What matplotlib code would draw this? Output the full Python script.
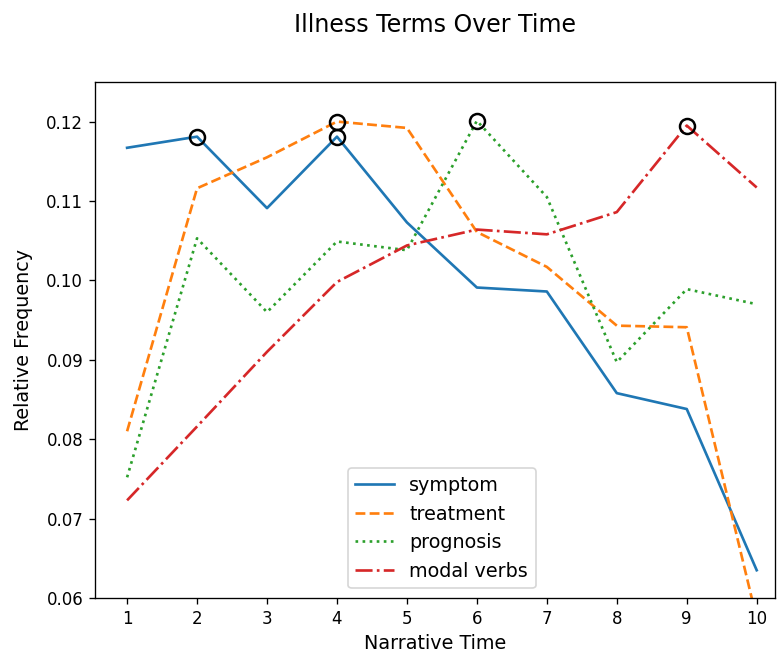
import matplotlib
matplotlib.use("Agg")
import matplotlib.pyplot as plt
import numpy as np

# === data ===
narrative_time = [1, 2, 3, 4, 5, 6, 7, 8, 9, 10]
symptom = [0.1167, 0.1181, 0.1091, 0.1181, 0.1073, 0.0991, 0.0986, 0.0858, 0.0838, 0.0635]
treatment = [0.0810, 0.1116, 0.1155, 0.1200, 0.1192, 0.1061, 0.1017, 0.0943, 0.0941, 0.0574]
prognosis = [0.0752, 0.1053, 0.0960, 0.1049, 0.1038, 0.1201, 0.1105, 0.0897, 0.0989, 0.0970]
modal_verbs = [0.0723, 0.0816, 0.0910, 0.0998, 0.1044, 0.1064, 0.1058, 0.1086, 0.1195, 0.1117]

series = [
    ("symptom", symptom, "#1f77b4", "-"),
    ("treatment", treatment, "#ff7f0e", "--"),
    ("prognosis", prognosis, "#2ca02c", ":"),
    ("modal verbs", modal_verbs, "#d62728", "-."),
]

fig = plt.figure(figsize=(778 / 120, 655 / 120), dpi=120)
ax = fig.add_axes([0.122, 0.087, 0.874, 0.788])

for name, vals, color, ls in series:
    ax.plot(narrative_time, vals, linestyle=ls, color=color, label=name, linewidth=1.6)

# circle the peak(s) of each series
for name, vals, color, ls in series:
    v = np.array(vals)
    peak = np.isclose(v, v.max())
    ax.plot(np.array(narrative_time)[peak], v[peak], "o", markersize=9,
            markerfacecolor="none", markeredgecolor="black", markeredgewidth=1.5)

ax.set_xlim(0.54, 10.26)
ax.set_ylim(0.06, 0.125)
ax.set_xticks(narrative_time)
ax.set_xlabel("Narrative Time", fontsize=11.5)
ax.set_ylabel("Relative Frequency", fontsize=11.5, labelpad=8)
ax.set_title("Illness Terms Over Time", pad=30, fontsize=14.2)
ax.legend(loc="lower center", fontsize=11.5, bbox_to_anchor=(0.51, 0))

fig.savefig("out.png", dpi=120)
